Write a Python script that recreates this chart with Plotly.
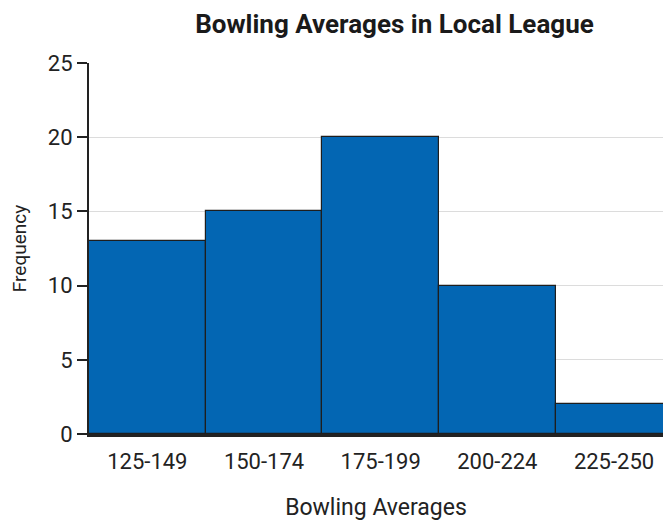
import plotly.graph_objects as go

# Histogram of bowling averages in the local league
bins = ["125-149", "150-174", "175-199", "200-224", "225-250"]
frequency = [13, 15, 20, 10, 2]
y_ticks = [0, 5, 10, 15, 20, 25]

fig = go.Figure(
    go.Bar(
        x=bins,
        y=frequency,
        marker=dict(color="#0366b3", line=dict(color="#1e1e1e", width=1.2)),
        hoverinfo="x+y",
    )
)

fig.update_layout(
    width=663,
    height=521,
    margin=dict(l=89, r=0, t=63, b=87),
    paper_bgcolor="white",
    plot_bgcolor="white",
    bargap=0,
    showlegend=False,
    font=dict(family="Roboto", color="#222"),
    title=dict(
        text="<b>Bowling Averages in Local League</b>",
        font=dict(family="Roboto", size=26, color="#1a1a1a"),
        x=0.595,
        xanchor="center",
        y=0.955,
        yanchor="middle",
    ),
)

fig.update_xaxes(
    type="category",
    range=[-0.5, 4.42],
    showgrid=False,
    showline=True,
    linecolor="#222",
    linewidth=3,
    ticks="",
    ticklabelstandoff=6,
    tickfont=dict(size=22, color="#222"),
    title=dict(text="Bowling Averages", font=dict(size=23, color="#222"), standoff=30),
)

fig.update_yaxes(
    range=[0, 25],
    tickvals=y_ticks,
    showgrid=True,
    gridcolor="#dcdcdc",
    gridwidth=1,
    showline=True,
    linecolor="#222",
    linewidth=2,
    ticks="outside",
    ticklen=10,
    tickwidth=1.5,
    tickcolor="#222",
    tickfont=dict(size=22, color="#222"),
    title=dict(text="Frequency", font=dict(size=19, color="#222"), standoff=16),
    zeroline=False,
)

fig.write_html("out.html")
